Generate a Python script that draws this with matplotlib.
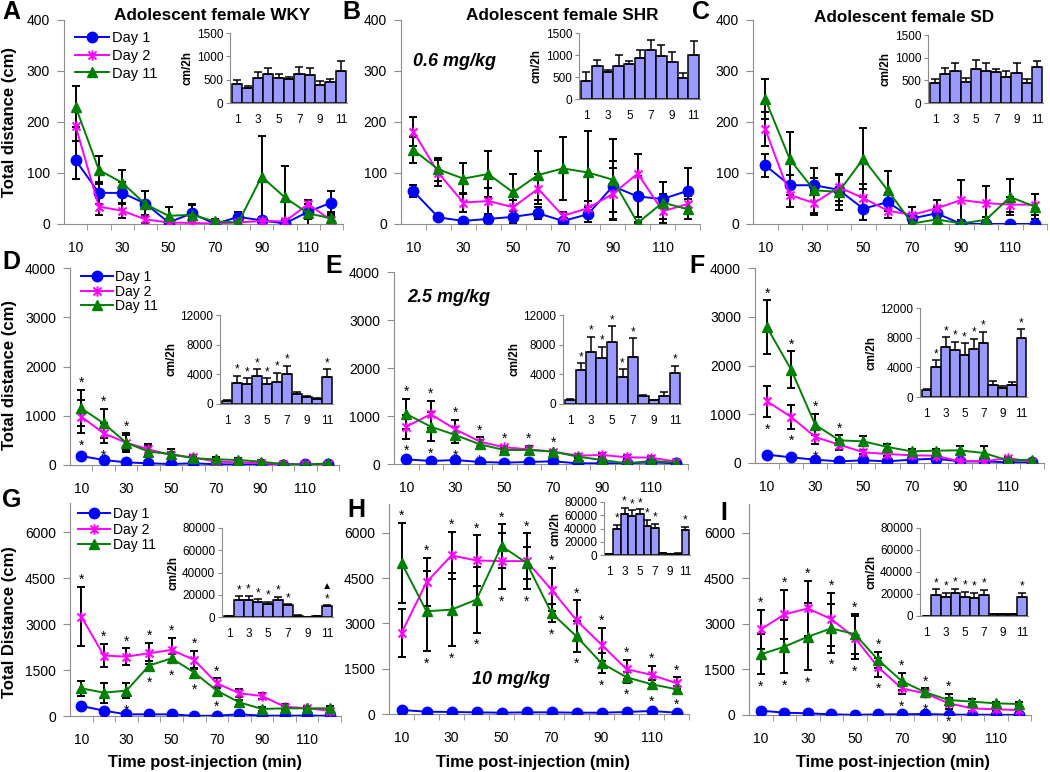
import matplotlib
matplotlib.use("Agg")
import matplotlib.pyplot as plt
from matplotlib.path import Path
import numpy as np

plt.rcParams['font.family'] = ['Liberation Sans', 'DejaVu Sans']

times = [10, 20, 30, 40, 50, 60, 70, 80, 90, 100, 110, 120]
days = [1, 2, 3, 4, 5, 6, 7, 8, 9, 10, 11]

# ---- row 1: 0.6 mg/kg ----
A_day1 = [125, 61, 61, 40, 3, 21, 0, 14, 7, 1, 24, 42]
A_day1_sem = [37, 22, 22, 25, 5, 18, 3, 10, 5, 3, 15, 22]
A_day2 = [192, 34, 26, 9, 3, 2, 1, 3, 6, 5, 39, 7]
A_day2_sem = [30, 17, 15, 8, 3, 3, 2, 3, 4, 3, 8, 8]
A_day11 = [230, 106, 81, 39, 16, 18, 5, 3, 93, 52, 21, 11]
A_day11_sem = [40, 28, 25, 25, 17, 20, 5, 5, 80, 62, 26, 12]
A_bar = [404, 325, 540, 620, 540, 512, 620, 605, 382, 440, 692]
A_bar_sem = [86, 35, 130, 137, 80, 50, 159, 145, 94, 79, 216]

B_day1 = [64, 13, 6, 10, 14, 21, 6, 19, 74, 54, 49, 65]
B_day1_sem = [12, 4, 3, 8, 12, 12, 4, 15, 50, 40, 10, 44]
B_day2 = [181, 100, 42, 45, 33, 69, 16, 31, 59, 99, 25, 39]
B_day2_sem = [28, 25, 18, 25, 15, 30, 8, 15, 50, 39, 15, 15]
B_day11 = [145, 107, 89, 98, 62, 96, 109, 101, 87, 2, 42, 29]
B_day11_sem = [25, 22, 30, 45, 36, 48, 62, 82, 79, 2, 41, 20]
B_bar = [411, 739, 609, 754, 792, 929, 1104, 967, 830, 472, 990]
B_bar_sem = [198, 152, 54, 251, 76, 191, 244, 267, 236, 129, 335]

C_day1 = [115, 76, 76, 67, 30, 43, 11, 21, 0, 0, 0, 0]
C_day1_sem = [23, 20, 15, 30, 22, 18, 8, 12, 0, 0, 0, 0]
C_day2 = [186, 57, 41, 72, 51, 26, 18, 31, 47, 41, 38, 38]
C_day2_sem = [33, 23, 24, 27, 28, 15, 16, 16, 39, 33, 15, 20]
C_day11 = [245, 127, 66, 63, 128, 66, 1, 9, 1, 8, 53, 34]
C_day11_sem = [40, 53, 44, 36, 60, 37, 3, 8, 2, 5, 36, 24]
C_bar = [443, 650, 710, 466, 761, 702, 673, 576, 665, 443, 798]
C_bar_sem = [82, 126, 162, 88, 185, 170, 88, 126, 207, 82, 126]

# ---- row 2: 2.5 mg/kg ----
D_day1 = [183, 102, 54, 34, 20, 34, 15, 10, 10, 10, 15, 15]
D_day1_sem = [20, 15, 10, 8, 5, 8, 5, 5, 5, 5, 5, 5]
D_day2 = [983, 644, 454, 319, 203, 156, 68, 54, 34, 20, 14, 14]
D_day2_sem = [330, 200, 150, 110, 60, 50, 30, 30, 20, 10, 10, 10]
D_day11 = [1153, 847, 454, 271, 224, 136, 115, 102, 68, 20, 5, 34]
D_day11_sem = [370, 292, 190, 110, 100, 50, 40, 40, 40, 20, 10, 20]
D_bar = [449, 2876, 2652, 3775, 2652, 3011, 4000, 1348, 899, 629, 3595]
D_bar_sem = [50, 944, 808, 899, 808, 1214, 1169, 225, 180, 135, 1124]

E_day1 = [97, 63, 83, 42, 28, 42, 56, 14, 14, 14, 35, 14]
E_day1_sem = [20, 15, 15, 10, 8, 10, 10, 5, 5, 5, 8, 5]
E_day2 = [779, 1037, 723, 466, 348, 306, 257, 174, 188, 139, 132, 49]
E_day2_sem = [250, 285, 195, 90, 35, 70, 40, 40, 50, 40, 30, 20]
E_day11 = [1043, 779, 605, 410, 292, 292, 257, 153, 83, 14, 63, 28]
E_day11_sem = [307, 310, 175, 90, 50, 70, 40, 40, 30, 10, 20, 10]
E_bar = [582, 4612, 7075, 6180, 8419, 3627, 6270, 1030, 493, 1030, 4165]
E_bar_sem = [60, 896, 2015, 1567, 2105, 1075, 2597, 179, 89, 537, 985]

F_day1 = [171, 116, 68, 34, 55, 34, 68, 89, 34, 34, 14, 14]
F_day1_sem = [20, 15, 10, 8, 10, 8, 10, 15, 5, 5, 5, 5]
F_day2 = [1265, 944, 533, 376, 219, 185, 157, 150, 34, 34, 103, 20]
F_day2_sem = [320, 240, 150, 100, 40, 40, 30, 30, 10, 10, 20, 10]
F_day11 = [2783, 1915, 786, 465, 444, 328, 239, 253, 260, 205, 55, 68]
F_day11_sem = [554, 375, 220, 100, 100, 60, 40, 40, 80, 150, 20, 20]
F_bar = [996, 4076, 6793, 6340, 5661, 6476, 7246, 1676, 1268, 1585, 7925]
F_bar_sem = [130, 906, 1268, 1133, 1585, 1359, 1585, 453, 226, 453, 1223]

# ---- row 3: 10 mg/kg ----
G_day1 = [327, 174, 54, 54, 54, 5, 11, 54, 11, 11, 11, 11]
G_day1_sem = [40, 30, 10, 10, 10, 5, 5, 10, 5, 5, 5, 5]
G_day2 = [3245, 1971, 1938, 2047, 2156, 1829, 1067, 740, 653, 305, 250, 174]
G_day2_sem = [958, 380, 270, 350, 380, 300, 160, 130, 110, 80, 60, 60]
G_day11 = [904, 762, 828, 1644, 1884, 1416, 828, 446, 229, 250, 250, 250]
G_day11_sem = [250, 330, 250, 150, 150, 150, 130, 80, 60, 60, 60, 60]
G_bar = [604, 15698, 15698, 13585, 12075, 15698, 10566, 1208, 302, 906, 9660]
G_bar_sem = [200, 3019, 3321, 2415, 1510, 2415, 906, 300, 100, 200, 906]

H_day1 = [133, 77, 66, 55, 44, 55, 55, 44, 44, 66, 100, 44]
H_day1_sem = [20, 10, 10, 10, 10, 10, 10, 10, 10, 10, 15, 10]
H_day2 = [2679, 4362, 5247, 5081, 5059, 5059, 4118, 3100, 2292, 1483, 1295, 1018]
H_day2_sem = [800, 800, 775, 830, 920, 920, 720, 660, 550, 310, 310, 190]
H_day11 = [5004, 3399, 3454, 3786, 5557, 5004, 3343, 2568, 1683, 1218, 985, 819]
H_day11_sem = [1320, 1330, 1220, 1090, 720, 530, 310, 500, 330, 180, 155, 110]
H_bar = [1000, 40000, 62500, 59000, 61500, 44000, 41000, 2500, 1500, 2000, 37500]
H_bar_sem = [300, 6000, 9000, 8500, 7500, 9500, 6500, 500, 300, 500, 5500]

I_day1 = [143, 77, 55, 22, 5, 22, 22, 33, 11, 11, 5, 5]
I_day1_sem = [20, 10, 10, 5, 5, 5, 5, 5, 5, 5, 5, 5]
I_day2 = [2819, 3312, 3510, 3159, 2545, 1568, 877, 713, 384, 219, 186, 165]
I_day2_sem = [650, 800, 910, 870, 700, 300, 200, 130, 190, 80, 60, 60]
I_day11 = [1996, 2249, 2578, 2852, 2665, 1810, 1119, 746, 494, 439, 384, 362]
I_day11_sem = [660, 880, 1100, 800, 650, 270, 280, 130, 190, 80, 60, 80]
I_bar = [300, 19163, 17643, 20684, 17643, 16730, 19163, 1521, 1521, 1521, 17643]
I_bar_sem = [100, 5172, 3650, 3955, 4562, 4563, 4563, 200, 200, 200, 3650]

# significance marks (index into times / days)
stars_top = {"D": [0, 1, 2], "E": [0, 1, 2, 3, 4, 5, 6], "F": [0, 1, 2, 3],
             "G": [0, 1, 2, 3, 4, 5, 6], "H": list(range(12)), "I": list(range(9))}
stars_bot = {"D": [0, 1, 2], "E": [0, 1, 2, 3, 4, 5, 6], "F": [0, 1, 2, 3],
             "G": [2, 3, 4, 5, 6], "H": list(range(1, 12)), "I": list(range(9))}
bar_stars = [2, 3, 4, 5, 6, 7, 11]

W, H = 1050, 772
fig = plt.figure(figsize=(10.5, 7.72), dpi=100)


def box(l, r, t, b):
    return [l / W, 1 - b / H, (r - l) / W, (b - t) / H]


def ftext(x, y, s, **kw):
    fig.text(x / W, 1 - y / H, s, **kw)


grey = '#8c8c8c'
star_marker = Path([(-1, -1), (1, 1), (-1, 1), (1, -1), (0, -1.3), (0, 1.3)],
                   [Path.MOVETO, Path.LINETO] * 3)


def main_panel(rect, d1, e1, d2, e2, d11, e11, ymax, yticks, key=None):
    ax = fig.add_axes(box(*rect))
    for y, e in [(d1, e1), (d2, e2), (d11, e11)]:
        ax.errorbar(times, y, yerr=e, fmt='none', ecolor='black', elinewidth=1.4,
                    capsize=3.2, capthick=1.4, zorder=2)
    ax.plot(times, d1, color='#0000ff', marker='o', markersize=7.5, lw=1.4,
            label='Day 1', zorder=4)
    ax.plot(times, d2, color='#ff00ff', marker=star_marker, markersize=7.5, mew=1.4,
            mfc='none', lw=1.4, label='Day 2', zorder=4)
    ax.plot(times, d11, color='#008000', marker='^', markersize=7.5, lw=1.4,
            label='Day 11', zorder=4)
    ax.set_xlim(5, 125)
    ax.set_ylim(0, ymax)
    ax.set_xticks([10, 30, 50, 70, 90, 110])
    ax.set_xticks(np.arange(15, 126, 10), minor=True)
    ax.set_yticks(yticks)
    ax.tick_params(axis='x', which='major', length=0, pad=12, labelsize=10)
    ax.tick_params(axis='x', which='minor', length=4, color=grey, direction='out')
    ax.tick_params(axis='y', length=5, color=grey, pad=5, labelsize=10)
    for s in ['top', 'right']:
        ax.spines[s].set_visible(False)
    for s in ['left', 'bottom']:
        ax.spines[s].set_color(grey)
    if key:
        for i in stars_top[key]:
            top = max(d2[i] + e2[i], d11[i] + e11[i])
            ax.annotate('*', (times[i], top), xytext=(0, 0), textcoords='offset points',
                        ha='center', va='bottom', fontsize=10)
        for i in stars_bot[key]:
            low = min(d2[i] - e2[i], d11[i] - e11[i])
            ax.annotate('*', (times[i], low), xytext=(0, -4), textcoords='offset points',
                        ha='center', va='top', fontsize=10)
    return ax


def inset_panel(rect, vals, sems, ymax, yticks, stars=False, tri=False):
    ax = fig.add_axes(box(*rect))
    ax.bar(days, vals, width=1.0, color='#9999ff', edgecolor='black', linewidth=1.1,
           yerr=[np.zeros(len(sems)), sems],
           error_kw=dict(ecolor='black', elinewidth=1.1, capsize=3, capthick=1.1), zorder=2)
    ax.set_xlim(0.3, 11.6)
    ax.set_ylim(0, ymax)
    ax.set_xticks([1, 3, 5, 7, 9, 11])
    ax.set_yticks(yticks)
    ax.tick_params(axis='x', length=0, pad=8, labelsize=8.5)
    ax.tick_params(axis='y', length=3, color=grey, pad=2, labelsize=8.5)
    ax.set_ylabel('cm/2h', fontsize=8.5, fontweight='bold', labelpad=2)
    for s in ['top', 'right']:
        ax.spines[s].set_visible(False)
    for s in ['left', 'bottom']:
        ax.spines[s].set_color(grey)
    ax.patch.set_alpha(0)
    if stars:
        for d in bar_stars:
            top = vals[d - 1] + sems[d - 1]
            ax.annotate('*', (d, top), xytext=(0, 0), textcoords='offset points',
                        ha='center', va='bottom', fontsize=8.5)
        if tri:
            ax.annotate('\u25b2', (11, vals[10] + sems[10]), xytext=(0, 10),
                        textcoords='offset points', ha='center', va='bottom', fontsize=7.5)
    return ax


t1 = [0, 100, 200, 300, 400]
t2 = [0, 1000, 2000, 3000, 4000]
t3 = [0, 1500, 3000, 4500, 6000]

axA = main_panel((64, 343, 20, 224), A_day1, A_day1_sem, A_day2, A_day2_sem, A_day11, A_day11_sem, 400, t1)
axB = main_panel((401, 700, 20, 224), B_day1, B_day1_sem, B_day2, B_day2_sem, B_day11, B_day11_sem, 400, t1)
axC = main_panel((753, 1047, 20, 224), C_day1, C_day1_sem, C_day2, C_day2_sem, C_day11, C_day11_sem, 400, t1)
axD = main_panel((70, 339, 268, 465), D_day1, D_day1_sem, D_day2, D_day2_sem, D_day11, D_day11_sem, 4000, t2, "D")
axE = main_panel((394, 688, 272, 464), E_day1, E_day1_sem, E_day2, E_day2_sem, E_day11, E_day11_sem, 4000, t2, "E")
axF = main_panel((755, 1044, 268, 463), F_day1, F_day1_sem, F_day2, F_day2_sem, F_day11, F_day11_sem, 4000, t2, "F")
axG = main_panel((70, 341, 503, 716), G_day1, G_day1_sem, G_day2, G_day2_sem, G_day11, G_day11_sem, 6950, t3, "G")
axH = main_panel((389, 689, 504, 714), H_day1, H_day1_sem, H_day2, H_day2_sem, H_day11, H_day11_sem, 6950, t3, "H")
axI = main_panel((749, 1031, 504, 715), I_day1, I_day1_sem, I_day2, I_day2_sem, I_day11, I_day11_sem, 6950, t3, "I")

i1 = [0, 500, 1000, 1500]
i2 = [0, 4000, 8000, 12000]
i3 = [0, 20000, 40000, 60000, 80000]
inset_panel((230, 347, 33, 103), A_bar, A_bar_sem, 1500, i1)
inset_panel((579, 700, 33, 99), B_bar, B_bar_sem, 1500, i1)
inset_panel((928, 1043, 35, 103), C_bar, C_bar_sem, 1500, i1)
inset_panel((220, 333, 315, 404), D_bar, D_bar_sem, 12000, i2, stars=True)
inset_panel((563, 681, 315, 404), E_bar, E_bar_sem, 12000, i2, stars=True)
inset_panel((920, 1027, 308, 397), F_bar, F_bar_sem, 12000, i2, stars=True)
inset_panel((222, 333, 528, 617), G_bar, G_bar_sem, 80000, i3, stars=True, tri=True)
inset_panel((604, 690, 502, 555), H_bar, H_bar_sem, 80000, i3, stars=True)
inset_panel((920, 1028, 528, 616), I_bar, I_bar_sem, 80000, i3, stars=True)

# legends
axA.legend(loc='upper left', bbox_to_anchor=(0.04, 0.945), frameon=False, fontsize=10.5,
           handlelength=2.3, handletextpad=0.2, labelspacing=0.25, borderpad=0, borderaxespad=0)
axD.legend(loc='upper left', bbox_to_anchor=(0.04, 0.99), frameon=False, fontsize=10,
           handlelength=2.3, handletextpad=0.2, labelspacing=0.05, borderpad=0, borderaxespad=0)
axG.legend(loc='upper left', bbox_to_anchor=(0.03, 0.98), frameon=False, fontsize=10,
           handlelength=2.3, handletextpad=0.2, labelspacing=0.1, borderpad=0, borderaxespad=0)

# panel letters
for x, y, s in [(2, 0, 'A'), (342, 0, 'B'), (692, 0, 'C'), (2, 250, 'D'), (325, 254, 'E'),
                (689, 254, 'F'), (2, 488, 'G'), (347, 498, 'H'), (720, 501, 'I')]:
    ftext(x, y, s, fontsize=18, fontweight='bold', ha='left', va='top')

# titles
ftext(212, 15, 'Adolescent female WKY', fontsize=12.3, fontweight='bold', ha='center', va='center')
ftext(562, 15, 'Adolescent female SHR', fontsize=12.3, fontweight='bold', ha='center', va='center')
ftext(904, 17, 'Adolescent female SD', fontsize=12.3, fontweight='bold', ha='center', va='center')

# doses
ftext(413, 62, '0.6 mg/kg', fontsize=13, fontweight='bold', style='italic', ha='left', va='center')
ftext(407, 297, '2.5 mg/kg', fontsize=13, fontweight='bold', style='italic', ha='left', va='center')
ftext(472, 680, '10 mg/kg', fontsize=13, fontweight='bold', style='italic', ha='left', va='center')

# axis titles
ftext(10, 122, 'Total distance (cm)', fontsize=12, fontweight='bold', rotation=90, ha='center', va='center')
ftext(10, 375, 'Total distance (cm)', fontsize=12, fontweight='bold', rotation=90, ha='center', va='center')
ftext(10, 622, 'Total Distance (cm)', fontsize=12, fontweight='bold', rotation=90, ha='center', va='center')
for xc in [205, 533, 893]:
    ftext(xc, 763, 'Time post-injection (min)', fontsize=11.8, fontweight='bold', ha='center', va='center')

fig.savefig('out.png', dpi=100)
